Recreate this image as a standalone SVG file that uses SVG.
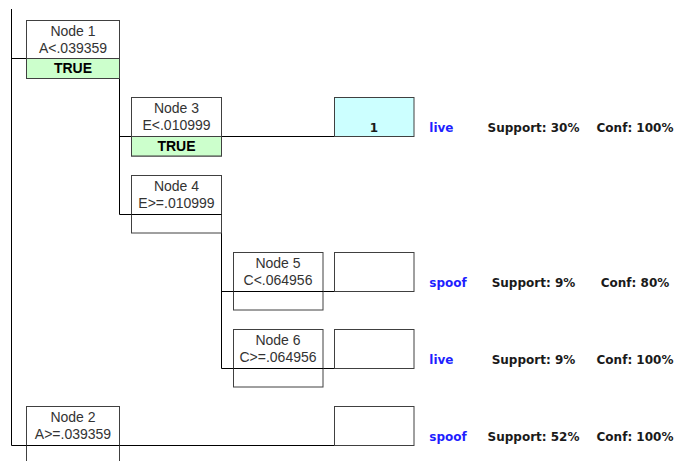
<svg xmlns="http://www.w3.org/2000/svg" width="677" height="461" viewBox="0 0 677 461">
<style>
.box{fill:#fff;stroke:#404040;stroke-width:1}
.green{fill:#ccffcc;stroke:#404040;stroke-width:1}
.cyan{fill:#ccffff;stroke:#404040;stroke-width:1}
.nt{font-family:"Liberation Sans",Arial,sans-serif;font-size:14px;fill:#333;text-anchor:middle}
.tt{font-family:"Liberation Sans",Arial,sans-serif;font-size:14px;font-weight:bold;fill:#000;text-anchor:middle}
.lbl{font-family:"DejaVu Sans",Verdana,sans-serif;font-size:12px;font-weight:bold;fill:#1a1a1a}
.cls{font-family:"DejaVu Sans",Verdana,sans-serif;font-size:12px;font-weight:bold;fill:#1f1fff}
.mid{text-anchor:middle}
.ln{stroke:#000;stroke-width:1;fill:none}
</style>
<rect width="677" height="461" fill="#fff"/>
<g id="connectors">
<path class="ln" d="M11.5 9V445.5"/>
<path class="ln" d="M11.5 58.5H26.5"/>
<path class="ln" d="M11.5 445.5H414"/>
<path class="ln" d="M119.5 78V214.5"/>
<path class="ln" d="M119.5 136.5H414"/>
<path class="ln" d="M119.5 214.5H221.5"/>
<path class="ln" d="M221.5 233V368.5"/>
<path class="ln" d="M221.5 291.5H414"/>
<path class="ln" d="M221.5 368.5H414"/>
</g>
<g id="node1">
<rect class="box" x="26.5" y="20.5" width="93" height="58"/>
<rect class="green" x="26.5" y="58.5" width="93" height="20"/>
<text class="nt" x="73" y="36">Node 1</text>
<text class="nt" x="73" y="53">A&lt;.039359</text>
<text class="tt" x="73" y="73">TRUE</text>
</g>
<g id="node3">
<rect class="box" x="131.5" y="97.5" width="90" height="58.5"/>
<rect class="green" x="131.5" y="136.5" width="90" height="19.5"/>
<text class="nt" x="176.5" y="113">Node 3</text>
<text class="nt" x="176.5" y="130">E&lt;.010999</text>
<text class="tt" x="176.5" y="151">TRUE</text>
</g>
<g id="node4">
<rect class="box" x="131.5" y="175.5" width="90" height="57.5"/>
<path class="ln" d="M131.5 214.5H221.5"/>
<text class="nt" x="176.5" y="191">Node 4</text>
<text class="nt" x="176.5" y="208">E&gt;=.010999</text>
</g>
<g id="node5">
<rect class="box" x="233.5" y="252.5" width="89.5" height="57.5"/>
<path class="ln" d="M233.5 291.5H323"/>
<text class="nt" x="278" y="268">Node 5</text>
<text class="nt" x="278" y="285">C&lt;.064956</text>
</g>
<g id="node6">
<rect class="box" x="233.5" y="329.5" width="89.5" height="57.5"/>
<path class="ln" d="M233.5 368.5H323"/>
<text class="nt" x="278" y="345">Node 6</text>
<text class="nt" x="278" y="362">C&gt;=.064956</text>
</g>
<g id="node2">
<rect class="box" x="26.5" y="406.5" width="93" height="70"/>
<path class="ln" d="M26.5 445.5H119.5"/>
<text class="nt" x="73" y="422">Node 2</text>
<text class="nt" x="73" y="439">A&gt;=.039359</text>
</g>
<g id="leaf1">
<rect class="cyan" x="334.5" y="97.5" width="79.5" height="39"/>
<text class="lbl mid" x="374" y="132">1</text>
<text class="cls" x="429.3" y="132">live</text>
<text class="lbl mid" x="533.5" y="132">Support: 30%</text>
<text class="lbl mid" x="635" y="132">Conf: 100%</text>
</g>
<g id="leaf5">
<rect class="box" x="334.5" y="252.5" width="79.5" height="39"/>
<text class="cls" x="429.3" y="287">spoof</text>
<text class="lbl mid" x="533.5" y="287">Support: 9%</text>
<text class="lbl mid" x="635" y="287">Conf: 80%</text>
</g>
<g id="leaf6">
<rect class="box" x="334.5" y="329.5" width="79.5" height="39"/>
<text class="cls" x="429.3" y="364">live</text>
<text class="lbl mid" x="533.5" y="364">Support: 9%</text>
<text class="lbl mid" x="635" y="364">Conf: 100%</text>
</g>
<g id="leaf2">
<rect class="box" x="334.5" y="406.5" width="79.5" height="39"/>
<text class="cls" x="429.3" y="441">spoof</text>
<text class="lbl mid" x="533.5" y="441">Support: 52%</text>
<text class="lbl mid" x="635" y="441">Conf: 100%</text>
</g>
</svg>
